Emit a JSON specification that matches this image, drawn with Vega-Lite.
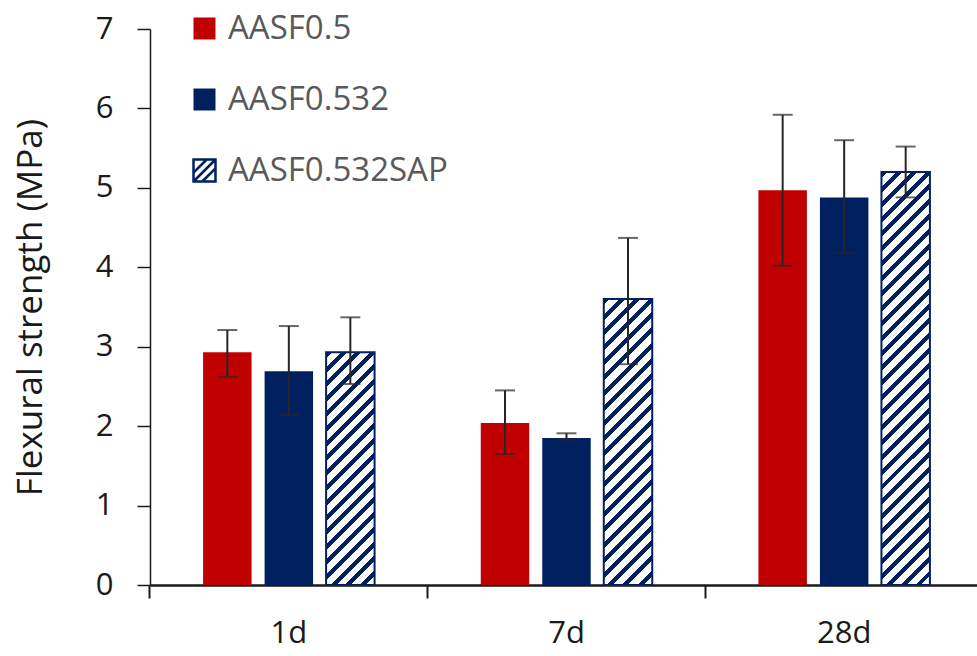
{
  "$schema": "https://vega.github.io/schema/vega-lite/v6.json",
  "width": 827,
  "height": 556,
  "autosize": {"type": "none"},
  "padding": {"left": 150, "top": 29, "right": 0, "bottom": 71},
  "background": "white",
  "config": {
    "view": {"stroke": null},
    "font": "Open Sans"
  },
  "data": {
    "values": [
      {"day": "1d", "series": "AASF0.5", "value": 2.93, "lo": 2.62, "hi": 3.21},
      {"day": "1d", "series": "AASF0.532", "value": 2.69, "lo": 2.14, "hi": 3.26},
      {"day": "1d", "series": "AASF0.532SAP", "value": 2.93, "lo": 2.53, "hi": 3.37},
      {"day": "7d", "series": "AASF0.5", "value": 2.04, "lo": 1.65, "hi": 2.45},
      {"day": "7d", "series": "AASF0.532", "value": 1.85, "lo": 1.83, "hi": 1.91},
      {"day": "7d", "series": "AASF0.532SAP", "value": 3.6, "lo": 2.78, "hi": 4.37},
      {"day": "28d", "series": "AASF0.5", "value": 4.97, "lo": 4.02, "hi": 5.92},
      {"day": "28d", "series": "AASF0.532", "value": 4.88, "lo": 4.18, "hi": 5.6},
      {"day": "28d", "series": "AASF0.532SAP", "value": 5.2, "lo": 4.88, "hi": 5.52}
    ]
  },
  "encoding": {
    "x": {
      "field": "day", "type": "nominal", "sort": ["1d", "7d", "28d"],
      "scale": {"range": [0, 833], "paddingInner": 0.3824, "paddingOuter": 0.1912},
      "axis": {
        "title": null, "bandPosition": -0.3096, "labelAngle": 0,
        "labelFontSize": 31, "labelFont": "Open Sans", "labelColor": "#1a1a1a", "labelPadding": 20,
        "tickSize": 13, "tickWidth": 2, "tickColor": "#1a1a1a",
        "domainWidth": 2.5, "domainColor": "#1a1a1a", "grid": false
      }
    },
    "xOffset": {
      "field": "series", "type": "nominal", "sort": ["AASF0.5", "AASF0.532", "AASF0.532SAP"],
      "scale": {"paddingInner": 0.212, "paddingOuter": 0}
    }
  },
  "layer": [
    {
      "mark": {"type": "bar", "strokeWidth": 2},
      "encoding": {
        "y": {
          "field": "value", "type": "quantitative",
          "scale": {"domain": [0, 7], "nice": false},
          "axis": {
            "values": [0, 1, 2, 3, 4, 5, 6, 7], "format": "d", "grid": false,
            "title": "Flexural strength (MPa)", "titleFont": "Open Sans", "titleFontSize": 35,
            "titleFontWeight": "normal", "titleColor": "#1a1a1a",
            "titleX": -120, "titleY": 278, "titleAngle": -90, "titleAlign": "center", "titleBaseline": "middle",
            "labelFontSize": 31, "labelFont": "Open Sans", "labelColor": "#1a1a1a", "labelPadding": 24,
            "tickSize": 13, "tickWidth": 1.5, "tickColor": "#1a1a1a",
            "domainWidth": 1.5, "domainColor": "#1a1a1a"
          }
        },
        "fill": {
          "condition": [
            {
              "test": "datum.day === '1d' && datum.series === 'AASF0.532SAP'",
              "value": {
                "gradient": "linear", "x1": 0, "y1": 0, "x2": 0.2412, "y2": 1.158,
                "stops": [
                  {"offset": 0, "color": "#002060"}, {"offset": 0.0211, "color": "#002060"}, {"offset": 0.0211, "color": "#fff"}, {"offset": 0.0526, "color": "#fff"},
                  {"offset": 0.0526, "color": "#002060"}, {"offset": 0.0737, "color": "#002060"}, {"offset": 0.0737, "color": "#fff"}, {"offset": 0.1053, "color": "#fff"},
                  {"offset": 0.1053, "color": "#002060"}, {"offset": 0.1263, "color": "#002060"}, {"offset": 0.1263, "color": "#fff"}, {"offset": 0.1579, "color": "#fff"},
                  {"offset": 0.1579, "color": "#002060"}, {"offset": 0.1789, "color": "#002060"}, {"offset": 0.1789, "color": "#fff"}, {"offset": 0.2105, "color": "#fff"},
                  {"offset": 0.2105, "color": "#002060"}, {"offset": 0.2316, "color": "#002060"}, {"offset": 0.2316, "color": "#fff"}, {"offset": 0.2632, "color": "#fff"},
                  {"offset": 0.2632, "color": "#002060"}, {"offset": 0.2842, "color": "#002060"}, {"offset": 0.2842, "color": "#fff"}, {"offset": 0.3158, "color": "#fff"},
                  {"offset": 0.3158, "color": "#002060"}, {"offset": 0.3368, "color": "#002060"}, {"offset": 0.3368, "color": "#fff"}, {"offset": 0.3684, "color": "#fff"},
                  {"offset": 0.3684, "color": "#002060"}, {"offset": 0.3895, "color": "#002060"}, {"offset": 0.3895, "color": "#fff"}, {"offset": 0.4211, "color": "#fff"},
                  {"offset": 0.4211, "color": "#002060"}, {"offset": 0.4421, "color": "#002060"}, {"offset": 0.4421, "color": "#fff"}, {"offset": 0.4737, "color": "#fff"},
                  {"offset": 0.4737, "color": "#002060"}, {"offset": 0.4947, "color": "#002060"}, {"offset": 0.4947, "color": "#fff"}, {"offset": 0.5263, "color": "#fff"},
                  {"offset": 0.5263, "color": "#002060"}, {"offset": 0.5474, "color": "#002060"}, {"offset": 0.5474, "color": "#fff"}, {"offset": 0.5789, "color": "#fff"},
                  {"offset": 0.5789, "color": "#002060"}, {"offset": 0.6, "color": "#002060"}, {"offset": 0.6, "color": "#fff"}, {"offset": 0.6316, "color": "#fff"},
                  {"offset": 0.6316, "color": "#002060"}, {"offset": 0.6526, "color": "#002060"}, {"offset": 0.6526, "color": "#fff"}, {"offset": 0.6842, "color": "#fff"},
                  {"offset": 0.6842, "color": "#002060"}, {"offset": 0.7053, "color": "#002060"}, {"offset": 0.7053, "color": "#fff"}, {"offset": 0.7368, "color": "#fff"},
                  {"offset": 0.7368, "color": "#002060"}, {"offset": 0.7579, "color": "#002060"}, {"offset": 0.7579, "color": "#fff"}, {"offset": 0.7895, "color": "#fff"},
                  {"offset": 0.7895, "color": "#002060"}, {"offset": 0.8105, "color": "#002060"}, {"offset": 0.8105, "color": "#fff"}, {"offset": 0.8421, "color": "#fff"},
                  {"offset": 0.8421, "color": "#002060"}, {"offset": 0.8632, "color": "#002060"}, {"offset": 0.8632, "color": "#fff"}, {"offset": 0.8947, "color": "#fff"},
                  {"offset": 0.8947, "color": "#002060"}, {"offset": 0.9158, "color": "#002060"}, {"offset": 0.9158, "color": "#fff"}, {"offset": 0.9474, "color": "#fff"},
                  {"offset": 0.9474, "color": "#002060"}, {"offset": 0.9684, "color": "#002060"}, {"offset": 0.9684, "color": "#fff"}, {"offset": 1, "color": "#fff"}
                ]
              }
            },
            {
              "test": "datum.day === '7d' && datum.series === 'AASF0.532SAP'",
              "value": {
                "gradient": "linear", "x1": 0, "y1": 0, "x2": 0.1927, "y2": 1.1368,
                "stops": [
                  {"offset": 0, "color": "#002060"}, {"offset": 0.0182, "color": "#002060"}, {"offset": 0.0182, "color": "#fff"}, {"offset": 0.0455, "color": "#fff"},
                  {"offset": 0.0455, "color": "#002060"}, {"offset": 0.0636, "color": "#002060"}, {"offset": 0.0636, "color": "#fff"}, {"offset": 0.0909, "color": "#fff"},
                  {"offset": 0.0909, "color": "#002060"}, {"offset": 0.1091, "color": "#002060"}, {"offset": 0.1091, "color": "#fff"}, {"offset": 0.1364, "color": "#fff"},
                  {"offset": 0.1364, "color": "#002060"}, {"offset": 0.1545, "color": "#002060"}, {"offset": 0.1545, "color": "#fff"}, {"offset": 0.1818, "color": "#fff"},
                  {"offset": 0.1818, "color": "#002060"}, {"offset": 0.2, "color": "#002060"}, {"offset": 0.2, "color": "#fff"}, {"offset": 0.2273, "color": "#fff"},
                  {"offset": 0.2273, "color": "#002060"}, {"offset": 0.2455, "color": "#002060"}, {"offset": 0.2455, "color": "#fff"}, {"offset": 0.2727, "color": "#fff"},
                  {"offset": 0.2727, "color": "#002060"}, {"offset": 0.2909, "color": "#002060"}, {"offset": 0.2909, "color": "#fff"}, {"offset": 0.3182, "color": "#fff"},
                  {"offset": 0.3182, "color": "#002060"}, {"offset": 0.3364, "color": "#002060"}, {"offset": 0.3364, "color": "#fff"}, {"offset": 0.3636, "color": "#fff"},
                  {"offset": 0.3636, "color": "#002060"}, {"offset": 0.3818, "color": "#002060"}, {"offset": 0.3818, "color": "#fff"}, {"offset": 0.4091, "color": "#fff"},
                  {"offset": 0.4091, "color": "#002060"}, {"offset": 0.4273, "color": "#002060"}, {"offset": 0.4273, "color": "#fff"}, {"offset": 0.4545, "color": "#fff"},
                  {"offset": 0.4545, "color": "#002060"}, {"offset": 0.4727, "color": "#002060"}, {"offset": 0.4727, "color": "#fff"}, {"offset": 0.5, "color": "#fff"},
                  {"offset": 0.5, "color": "#002060"}, {"offset": 0.5182, "color": "#002060"}, {"offset": 0.5182, "color": "#fff"}, {"offset": 0.5455, "color": "#fff"},
                  {"offset": 0.5455, "color": "#002060"}, {"offset": 0.5636, "color": "#002060"}, {"offset": 0.5636, "color": "#fff"}, {"offset": 0.5909, "color": "#fff"},
                  {"offset": 0.5909, "color": "#002060"}, {"offset": 0.6091, "color": "#002060"}, {"offset": 0.6091, "color": "#fff"}, {"offset": 0.6364, "color": "#fff"},
                  {"offset": 0.6364, "color": "#002060"}, {"offset": 0.6545, "color": "#002060"}, {"offset": 0.6545, "color": "#fff"}, {"offset": 0.6818, "color": "#fff"},
                  {"offset": 0.6818, "color": "#002060"}, {"offset": 0.7, "color": "#002060"}, {"offset": 0.7, "color": "#fff"}, {"offset": 0.7273, "color": "#fff"},
                  {"offset": 0.7273, "color": "#002060"}, {"offset": 0.7455, "color": "#002060"}, {"offset": 0.7455, "color": "#fff"}, {"offset": 0.7727, "color": "#fff"},
                  {"offset": 0.7727, "color": "#002060"}, {"offset": 0.7909, "color": "#002060"}, {"offset": 0.7909, "color": "#fff"}, {"offset": 0.8182, "color": "#fff"},
                  {"offset": 0.8182, "color": "#002060"}, {"offset": 0.8364, "color": "#002060"}, {"offset": 0.8364, "color": "#fff"}, {"offset": 0.8636, "color": "#fff"},
                  {"offset": 0.8636, "color": "#002060"}, {"offset": 0.8818, "color": "#002060"}, {"offset": 0.8818, "color": "#fff"}, {"offset": 0.9091, "color": "#fff"},
                  {"offset": 0.9091, "color": "#002060"}, {"offset": 0.9273, "color": "#002060"}, {"offset": 0.9273, "color": "#fff"}, {"offset": 0.9545, "color": "#fff"},
                  {"offset": 0.9545, "color": "#002060"}, {"offset": 0.9727, "color": "#002060"}, {"offset": 0.9727, "color": "#fff"}, {"offset": 1, "color": "#fff"}
                ]
              }
            },
            {
              "test": "datum.day === '28d' && datum.series === 'AASF0.532SAP'",
              "value": {
                "gradient": "linear", "x1": 0, "y1": 0, "x2": 0.1293, "y2": 1.1022,
                "stops": [
                  {"offset": 0, "color": "#002060"}, {"offset": 0.0129, "color": "#002060"}, {"offset": 0.0129, "color": "#fff"}, {"offset": 0.0323, "color": "#fff"},
                  {"offset": 0.0323, "color": "#002060"}, {"offset": 0.0452, "color": "#002060"}, {"offset": 0.0452, "color": "#fff"}, {"offset": 0.0645, "color": "#fff"},
                  {"offset": 0.0645, "color": "#002060"}, {"offset": 0.0774, "color": "#002060"}, {"offset": 0.0774, "color": "#fff"}, {"offset": 0.0968, "color": "#fff"},
                  {"offset": 0.0968, "color": "#002060"}, {"offset": 0.1097, "color": "#002060"}, {"offset": 0.1097, "color": "#fff"}, {"offset": 0.129, "color": "#fff"},
                  {"offset": 0.129, "color": "#002060"}, {"offset": 0.1419, "color": "#002060"}, {"offset": 0.1419, "color": "#fff"}, {"offset": 0.1613, "color": "#fff"},
                  {"offset": 0.1613, "color": "#002060"}, {"offset": 0.1742, "color": "#002060"}, {"offset": 0.1742, "color": "#fff"}, {"offset": 0.1935, "color": "#fff"},
                  {"offset": 0.1935, "color": "#002060"}, {"offset": 0.2065, "color": "#002060"}, {"offset": 0.2065, "color": "#fff"}, {"offset": 0.2258, "color": "#fff"},
                  {"offset": 0.2258, "color": "#002060"}, {"offset": 0.2387, "color": "#002060"}, {"offset": 0.2387, "color": "#fff"}, {"offset": 0.2581, "color": "#fff"},
                  {"offset": 0.2581, "color": "#002060"}, {"offset": 0.271, "color": "#002060"}, {"offset": 0.271, "color": "#fff"}, {"offset": 0.2903, "color": "#fff"},
                  {"offset": 0.2903, "color": "#002060"}, {"offset": 0.3032, "color": "#002060"}, {"offset": 0.3032, "color": "#fff"}, {"offset": 0.3226, "color": "#fff"},
                  {"offset": 0.3226, "color": "#002060"}, {"offset": 0.3355, "color": "#002060"}, {"offset": 0.3355, "color": "#fff"}, {"offset": 0.3548, "color": "#fff"},
                  {"offset": 0.3548, "color": "#002060"}, {"offset": 0.3677, "color": "#002060"}, {"offset": 0.3677, "color": "#fff"}, {"offset": 0.3871, "color": "#fff"},
                  {"offset": 0.3871, "color": "#002060"}, {"offset": 0.4, "color": "#002060"}, {"offset": 0.4, "color": "#fff"}, {"offset": 0.4194, "color": "#fff"},
                  {"offset": 0.4194, "color": "#002060"}, {"offset": 0.4323, "color": "#002060"}, {"offset": 0.4323, "color": "#fff"}, {"offset": 0.4516, "color": "#fff"},
                  {"offset": 0.4516, "color": "#002060"}, {"offset": 0.4645, "color": "#002060"}, {"offset": 0.4645, "color": "#fff"}, {"offset": 0.4839, "color": "#fff"},
                  {"offset": 0.4839, "color": "#002060"}, {"offset": 0.4968, "color": "#002060"}, {"offset": 0.4968, "color": "#fff"}, {"offset": 0.5161, "color": "#fff"},
                  {"offset": 0.5161, "color": "#002060"}, {"offset": 0.529, "color": "#002060"}, {"offset": 0.529, "color": "#fff"}, {"offset": 0.5484, "color": "#fff"},
                  {"offset": 0.5484, "color": "#002060"}, {"offset": 0.5613, "color": "#002060"}, {"offset": 0.5613, "color": "#fff"}, {"offset": 0.5806, "color": "#fff"},
                  {"offset": 0.5806, "color": "#002060"}, {"offset": 0.5935, "color": "#002060"}, {"offset": 0.5935, "color": "#fff"}, {"offset": 0.6129, "color": "#fff"},
                  {"offset": 0.6129, "color": "#002060"}, {"offset": 0.6258, "color": "#002060"}, {"offset": 0.6258, "color": "#fff"}, {"offset": 0.6452, "color": "#fff"},
                  {"offset": 0.6452, "color": "#002060"}, {"offset": 0.6581, "color": "#002060"}, {"offset": 0.6581, "color": "#fff"}, {"offset": 0.6774, "color": "#fff"},
                  {"offset": 0.6774, "color": "#002060"}, {"offset": 0.6903, "color": "#002060"}, {"offset": 0.6903, "color": "#fff"}, {"offset": 0.7097, "color": "#fff"},
                  {"offset": 0.7097, "color": "#002060"}, {"offset": 0.7226, "color": "#002060"}, {"offset": 0.7226, "color": "#fff"}, {"offset": 0.7419, "color": "#fff"},
                  {"offset": 0.7419, "color": "#002060"}, {"offset": 0.7548, "color": "#002060"}, {"offset": 0.7548, "color": "#fff"}, {"offset": 0.7742, "color": "#fff"},
                  {"offset": 0.7742, "color": "#002060"}, {"offset": 0.7871, "color": "#002060"}, {"offset": 0.7871, "color": "#fff"}, {"offset": 0.8065, "color": "#fff"},
                  {"offset": 0.8065, "color": "#002060"}, {"offset": 0.8194, "color": "#002060"}, {"offset": 0.8194, "color": "#fff"}, {"offset": 0.8387, "color": "#fff"},
                  {"offset": 0.8387, "color": "#002060"}, {"offset": 0.8516, "color": "#002060"}, {"offset": 0.8516, "color": "#fff"}, {"offset": 0.871, "color": "#fff"},
                  {"offset": 0.871, "color": "#002060"}, {"offset": 0.8839, "color": "#002060"}, {"offset": 0.8839, "color": "#fff"}, {"offset": 0.9032, "color": "#fff"},
                  {"offset": 0.9032, "color": "#002060"}, {"offset": 0.9161, "color": "#002060"}, {"offset": 0.9161, "color": "#fff"}, {"offset": 0.9355, "color": "#fff"},
                  {"offset": 0.9355, "color": "#002060"}, {"offset": 0.9484, "color": "#002060"}, {"offset": 0.9484, "color": "#fff"}, {"offset": 0.9677, "color": "#fff"},
                  {"offset": 0.9677, "color": "#002060"}, {"offset": 0.9806, "color": "#002060"}, {"offset": 0.9806, "color": "#fff"}, {"offset": 1, "color": "#fff"}
                ]
              }
            }
          ],
          "field": "series", "type": "nominal",
          "scale": {"domain": ["AASF0.5", "AASF0.532", "AASF0.532SAP"], "range": ["#C00000", "#002060", "#ffffff"]},
          "legend": {
            "title": null, "orient": "none", "legendX": 38, "legendY": -17, "padding": 0,
            "symbolType": "square", "symbolSize": 484,
            "labelFont": "Open Sans", "labelFontSize": 33, "labelColor": "#595959", "labelOffset": 7,
            "rowPadding": 37, "labelLimit": 400,
            "encoding": {
              "symbols": {
                "shape": {
                  "condition": {"test": "datum.value === 'AASF0.532SAP'", "value": "M-1,-1H1V1H-1Z M-1,1L1,-1 M-1,0.2L0.2,-1 M-0.2,1L1,-0.2"},
                  "value": "square"
                },
                "stroke": {
                  "condition": {"test": "datum.value === 'AASF0.532SAP'", "value": "#002060"},
                  "value": "transparent"
                },
                "strokeWidth": {"value": 2.5}
              }
            }
          }
        },
        "stroke": {
          "condition": {"test": "datum.series === 'AASF0.532SAP'", "value": "#002060"},
          "value": null
        }
      }
    },
    {
      "mark": {"type": "rule", "strokeWidth": 2, "color": "#262626"},
      "encoding": {
        "y": {"field": "lo", "type": "quantitative"},
        "y2": {"field": "hi"}
      }
    },
    {
      "mark": {"type": "tick", "orient": "horizontal", "size": 20, "thickness": 2, "color": "#262626"},
      "encoding": {
        "y": {"field": "hi", "type": "quantitative"}
      }
    },
    {
      "mark": {"type": "tick", "orient": "horizontal", "size": 20, "thickness": 2, "color": "#262626"},
      "encoding": {
        "y": {"field": "lo", "type": "quantitative"}
      }
    }
  ]
}
